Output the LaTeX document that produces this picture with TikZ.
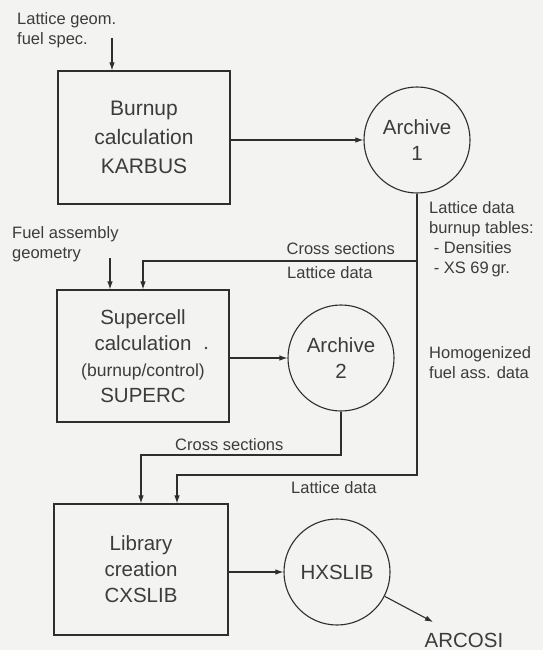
\documentclass[tikz,border=0pt]{standalone}
\usepackage{fontspec}
\setmainfont{Liberation Sans}
\usetikzlibrary{arrows.meta}
\definecolor{ink}{HTML}{2E2E2E}
\definecolor{txt}{HTML}{3C3C3C}
\definecolor{paper}{HTML}{F3F3F1}
\begin{document}
\begin{tikzpicture}[x=1pt,y=-1pt,
  big/.style={font=\fontsize{20.5}{26}\selectfont, align=center, text=txt},
  lbl/.style={font=\fontsize{16.5}{20}\selectfont, align=left, text=txt, inner sep=0pt},
  proc/.style={draw=ink, line width=1.1pt, minimum width=172pt, minimum height=132pt, big},
  arch/.style={draw=ink, line width=1.1pt, circle, minimum size=106pt, inner sep=0pt, big},
  flow/.style={draw=ink, line width=1.1pt, -{Latex[length=8pt,width=5.5pt]}},
  wire/.style={draw=ink, line width=1.1pt}]
\fill[paper] (0,0) rectangle (543,650);
\useasboundingbox (0,0) rectangle (543,650);

% process boxes
\node[proc, minimum width=172pt, minimum height=133pt, font=\fontsize{21}{29}\selectfont] (burn) at (144,137.5) {Burnup\\calculation\\KARBUS};
\node[proc, minimum width=172pt, minimum height=132pt] (super) at (143,356) {Supercell\\calculation\\{\fontsize{17.5}{22}\selectfont (burnup/control)}\\SUPERC};
\node[proc, minimum width=174pt, minimum height=131pt] (lib) at (141,569.5) {Library\\creation\\CXSLIB};

% archives
\node[arch] (a1) at (417,140) {Archive\\1};
\node[arch] (a2) at (341,358) {Archive\\2};
\node[arch] (hx) at (337,572) {HXSLIB};

% stray dot printed in the figure
\fill[txt] (206,348) circle (1.3pt);

% inputs
\node[lbl, anchor=north west] (tin1) at (17,12) {Lattice geom.\\fuel spec.};
\coordinate (in1) at (112,38);
\draw[flow] (in1) -- (in1 |- burn.north);
\node[lbl, anchor=north west] (tin2) at (12,226) {Fuel assembly\\geometry};
\coordinate (in2) at (110,258);
\draw[flow] (in2) -- (in2 |- super.north);

% main flows
\draw[flow] (burn.east |- a1) -- (a1.west);
\draw[flow] (super.east |- a2) -- (a2.west);
\draw[flow] (lib.east |- hx) -- (hx.west);

% lattice data from archive 1
\coordinate (k1) at (177,475);
\coordinate (k2) at (143,261);
\draw[flow] (a1.south) |- (k1) -- (k1 |- lib.north);
\draw[flow] (a1.south |- k2) -- (k2) -- (k2 |- super.north);

% cross sections from archive 2
\coordinate (k3) at (141,455);
\draw[flow] (a2.south) |- (k3) -- (k3 |- lib.north);

% output
\coordinate (arcin) at (433,622);
\draw[flow] (hx.-27.5) -- (arcin);
\node[font=\fontsize{20.5}{24}\selectfont, text=txt, anchor=base] (arc) at (464,647) {ARCOSI};

% labels
\node[lbl, anchor=base east] (cs1) at (395,254) {Cross sections};
\node[lbl, anchor=base west] (ld1) at (287,278) {Lattice data};
\node[lbl, anchor=north west] (tab) at (429,201) {Lattice data\\burnup tables:\\\ - Densities\\\ - XS 69\,gr.};
\node[lbl, anchor=north west] (hom) at (429,346) {Homogenized\\fuel ass. data};
\node[lbl, anchor=base west] (cs2) at (175,450) {Cross sections};
\node[lbl, anchor=base west] (ld2) at (291,493) {Lattice data};
\end{tikzpicture}
\end{document}
